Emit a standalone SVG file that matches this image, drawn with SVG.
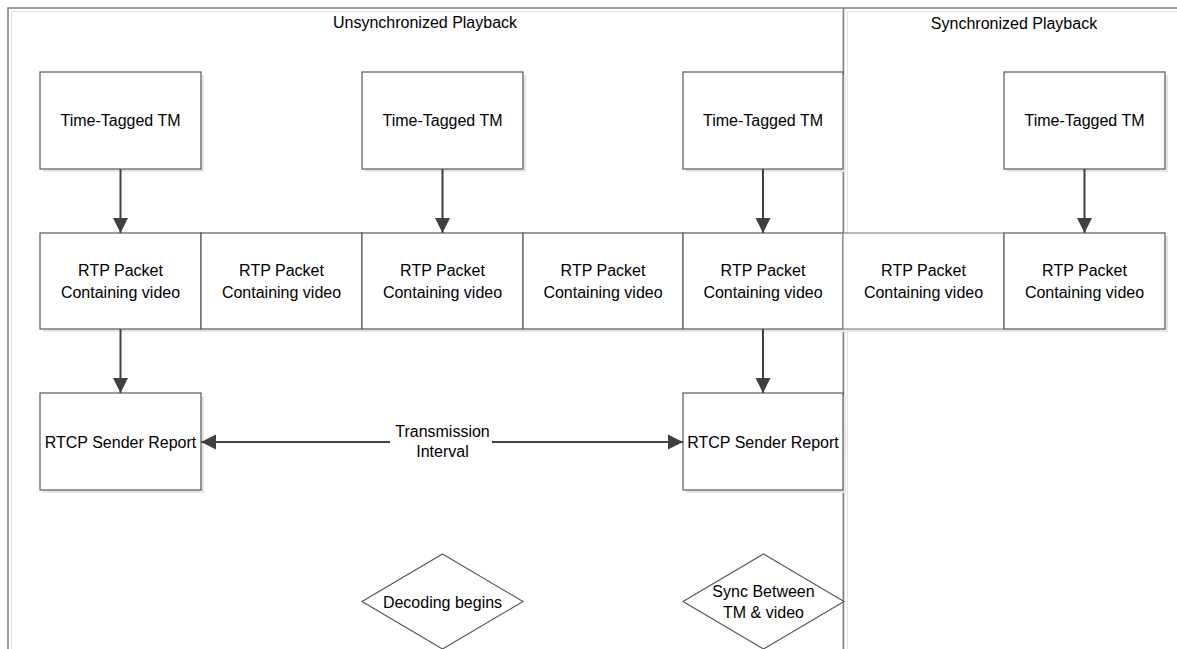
<svg xmlns="http://www.w3.org/2000/svg" width="1177" height="649" viewBox="0 0 1177 649">
  <style>
    .box { fill: #ffffff; stroke: #595959; stroke-width: 1.2; }
    .shadow { fill: #e6e6e6; stroke: none; }
    .frame { fill: none; stroke: #7f7f7f; stroke-width: 1.5; }
    .frameIn { fill: none; stroke: #e3e3e3; stroke-width: 1; }
    .t { font-family: "Liberation Sans", Arial, sans-serif; font-size: 16px; fill: #000; text-anchor: middle; }
    .conn { stroke: #404040; stroke-width: 2; fill: none; }
  </style>
  <defs>
    <marker id="ah" markerUnits="userSpaceOnUse" markerWidth="16" markerHeight="16" viewBox="0 0 16 16" refX="15" refY="8" orient="auto-start-reverse">
      <path d="M0,0.5 L15,8 L0,15.5 Z" fill="#404040"/>
    </marker>
  </defs>
  <rect width="1177" height="649" fill="#ffffff"/>

  <g id="frames">
    <rect class="frameIn" x="11.5" y="11.5" width="831" height="660"/>
    <rect class="frameIn" x="847.5" y="11.5" width="340" height="660"/>
    <path class="frame" d="M8,660 V8 H1190 M843.5,8 V660"/>
    <text class="t" x="425" y="28">Unsynchronized Playback</text>
    <text class="t" x="1014" y="29">Synchronized Playback</text>
  </g>

  <g id="tm1"><rect class="shadow" x="43" y="75" width="161" height="97"/><rect class="box" x="40" y="72" width="161" height="97"/><text class="t" x="120.5" y="126">Time-Tagged TM</text></g>
  <g id="tm2"><rect class="shadow" x="365" y="75" width="161" height="97"/><rect class="box" x="362" y="72" width="161" height="97"/><text class="t" x="442.5" y="126">Time-Tagged TM</text></g>
  <g id="tm3"><rect class="shadow" x="686" y="75" width="160" height="97"/><rect class="box" x="683" y="72" width="160" height="97"/><text class="t" x="763" y="126">Time-Tagged TM</text></g>
  <g id="tm4"><rect class="shadow" x="1007" y="75" width="161" height="97"/><rect class="box" x="1004" y="72" width="161" height="97"/><text class="t" x="1084.5" y="126">Time-Tagged TM</text></g>

  <g id="rtpShadow"><rect class="shadow" x="43" y="236" width="1125" height="96"/></g>
  <g id="rtp1"><rect class="box" x="40" y="233" width="161" height="96"/><text class="t" x="120.5" y="276">RTP Packet</text><text class="t" x="120.5" y="298">Containing video</text></g>
  <g id="rtp2"><rect class="box" x="201" y="233" width="161" height="96"/><text class="t" x="281.5" y="276">RTP Packet</text><text class="t" x="281.5" y="298">Containing video</text></g>
  <g id="rtp3"><rect class="box" x="362" y="233" width="161" height="96"/><text class="t" x="442.5" y="276">RTP Packet</text><text class="t" x="442.5" y="298">Containing video</text></g>
  <g id="rtp4"><rect class="box" x="523" y="233" width="160" height="96"/><text class="t" x="603" y="276">RTP Packet</text><text class="t" x="603" y="298">Containing video</text></g>
  <g id="rtp5"><rect class="box" x="683" y="233" width="160" height="96"/><text class="t" x="763" y="276">RTP Packet</text><text class="t" x="763" y="298">Containing video</text></g>
  <g id="rtp6"><rect class="box" x="843" y="233" width="161" height="96" style="stroke:#8c8c8c"/><text class="t" x="923.5" y="276">RTP Packet</text><text class="t" x="923.5" y="298">Containing video</text></g>
  <g id="rtp7"><rect class="box" x="1004" y="233" width="161" height="96"/><text class="t" x="1084.5" y="276">RTP Packet</text><text class="t" x="1084.5" y="298">Containing video</text></g>

  <g id="rtcp1"><rect class="shadow" x="43" y="396" width="161" height="97"/><rect class="box" x="40" y="393" width="161" height="97"/><text class="t" x="120.5" y="448">RTCP Sender Report</text></g>
  <g id="rtcp2"><rect class="shadow" x="686" y="396" width="160" height="97"/><rect class="box" x="683" y="393" width="160" height="97"/><text class="t" x="763" y="448">RTCP Sender Report</text></g>

  <g id="decoding"><path class="box" d="M442.5,554 L523,601.5 L442.5,649 L362,601.5 Z"/><text class="t" x="442.5" y="608">Decoding begins</text></g>
  <g id="sync"><path class="box" d="M763.5,554 L844,601.5 L763.5,649 L683,601.5 Z"/><text class="t" x="763.5" y="597">Sync Between</text><text class="t" x="763.5" y="618">TM &amp; video</text></g>

  <g id="connectors">
    <line class="conn" x1="120.5" y1="169" x2="120.5" y2="233" marker-end="url(#ah)"/>
    <line class="conn" x1="442.5" y1="169" x2="442.5" y2="233" marker-end="url(#ah)"/>
    <line class="conn" x1="763" y1="169" x2="763" y2="233" marker-end="url(#ah)"/>
    <line class="conn" x1="1084.5" y1="169" x2="1084.5" y2="233" marker-end="url(#ah)"/>
    <line class="conn" x1="120.5" y1="329" x2="120.5" y2="393" marker-end="url(#ah)"/>
    <line class="conn" x1="763" y1="329" x2="763" y2="393" marker-end="url(#ah)"/>
    <line class="conn" x1="390" y1="442" x2="201" y2="442" marker-end="url(#ah)"/>
    <line class="conn" x1="492" y1="442" x2="683" y2="442" marker-end="url(#ah)"/>
    <text class="t" x="442.5" y="437">Transmission</text>
    <text class="t" x="442.5" y="457">Interval</text>
  </g>
</svg>
